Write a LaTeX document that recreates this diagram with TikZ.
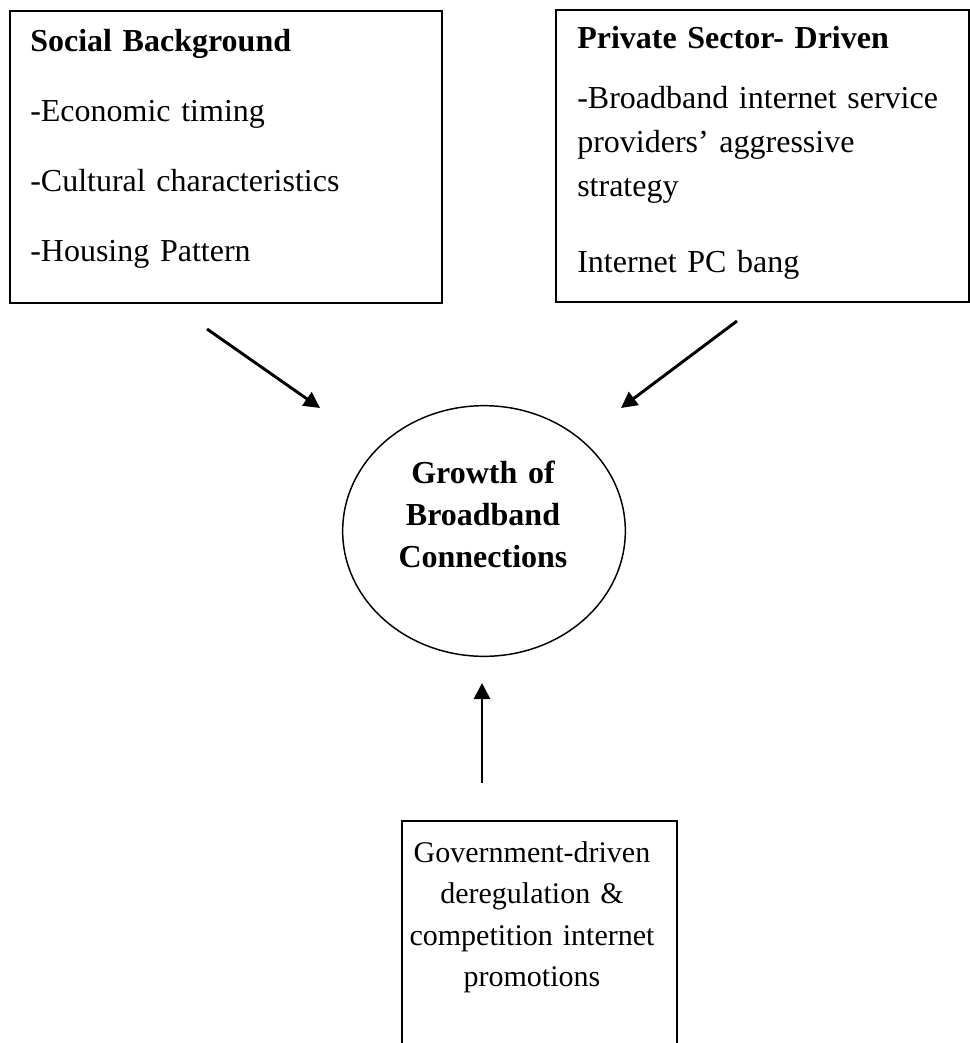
\documentclass[tikz,border=0pt]{standalone}
\usepackage{fontspec}
\setmainfont{Liberation Serif}
\usetikzlibrary{shapes.geometric, arrows.meta, fit}

\begin{document}
\begin{tikzpicture}[
    x=0.75pt, y=-0.75pt,
    every node/.style={font=\fontsize{24}{33}\selectfont, inner sep=0pt},
    panel/.style={rectangle, draw, line width=1.5pt},
    hub/.style={ellipse, draw, line width=1.1pt, minimum width=212pt, minimum height=188pt},
    listtext/.style={anchor=base west, align=left, text width=300pt},
    midtext/.style={anchor=base, align=center, text width=210pt},
    arrow/.style={-{Triangle[length=12pt, width=12pt]}, line width=2.2pt}
]
\useasboundingbox (0,0) rectangle (970,1043);

\node[panel, fit={(9.5,11) (442,303)}] (social) {};
\node[listtext] (socialtext) at (30,51) {\textbf{Social Background}\\[19.5pt]
    -Economic timing\\[19.5pt]
    -Cultural characteristics\\[19.5pt]
    -Housing Pattern};

\node[panel, fit={(556,10) (969,302)}] (private) {};
\node[listtext] (privatetext) at (577,48) {\textbf{Private Sector- Driven}\\[12pt]
    -Broadband internet service\\
    providers’ aggressive\\
    strategy\\[24pt]
    Internet PC bang};

\node[hub] (growth) at (484,531) {};
\node[midtext, font=\fontsize{24}{31.5}\selectfont\bfseries] (growthtext) at (483,483) {Growth of\\ Broadband\\ Connections};

\node[panel, fit={(402,821) (677,1080)}] (gov) {};
\node[midtext, font=\fontsize{22.5}{31.2}\selectfont] (govtext) at (532,862) {Government-driven\\ deregulation \&\\ competition internet\\ promotions};

\coordinate (socialfoot) at (207,329);
\coordinate (privatefoot) at (737,321);
\coordinate (govtop) at (482,783);
\coordinate (growthnw) at (320,408);
\coordinate (growthne) at (621,408);
\coordinate (growthbelow) at (482,683);

\draw[arrow] (socialfoot) -- (growthnw);
\draw[arrow] (privatefoot) -- (growthne);
\draw[arrow] (govtop) -- (growthbelow);
\end{tikzpicture}
\end{document}
